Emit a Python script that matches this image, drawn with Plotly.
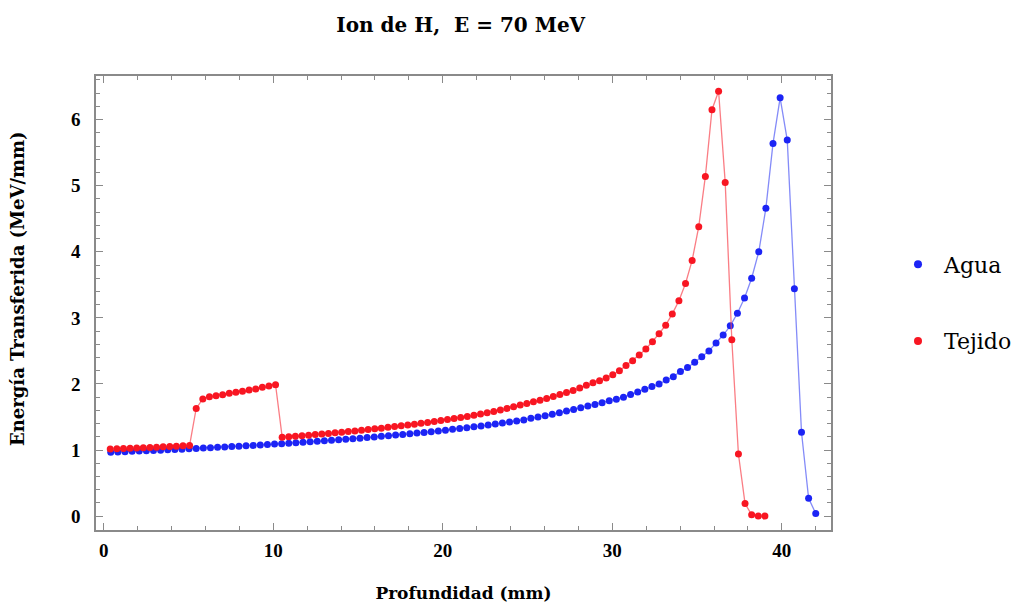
import plotly.graph_objects as go

# Depth grids (mm)
depth_agua = [0.42, 0.84, 1.26, 1.68, 2.1, 2.52, 2.94, 3.36, 3.78, 4.2, 4.62, 5.04, 5.46, 5.88, 6.3, 6.72, 7.14, 7.56, 7.98, 8.4,
              8.82, 9.24, 9.66, 10.08, 10.5, 10.92, 11.34, 11.76, 12.18, 12.6, 13.02, 13.44, 13.86, 14.28, 14.7, 15.12, 15.54, 15.96, 16.38, 16.8,
              17.22, 17.64, 18.06, 18.48, 18.9, 19.32, 19.74, 20.16, 20.58, 21.0, 21.42, 21.84, 22.26, 22.68, 23.1, 23.52, 23.94, 24.36, 24.78, 25.2,
              25.62, 26.04, 26.46, 26.88, 27.3, 27.72, 28.14, 28.56, 28.98, 29.4, 29.82, 30.24, 30.66, 31.08, 31.5, 31.92, 32.34, 32.76, 33.18, 33.6,
              34.02, 34.44, 34.86, 35.28, 35.7, 36.12, 36.54, 36.96, 37.38, 37.8, 38.22, 38.64, 39.06, 39.48, 39.9, 40.32, 40.74, 41.16, 41.58, 42.0]

energia_agua = [0.965, 0.970, 0.975, 0.980, 0.984, 0.989, 0.994, 0.998, 1.003, 1.008,
                1.013, 1.018, 1.024, 1.029, 1.035, 1.041, 1.046, 1.052, 1.058, 1.064,
                1.070, 1.077, 1.083, 1.090, 1.096, 1.103, 1.110, 1.117, 1.125, 1.132,
                1.140, 1.148, 1.156, 1.164, 1.172, 1.180, 1.189, 1.198, 1.207, 1.216,
                1.226, 1.236, 1.246, 1.256, 1.267, 1.278, 1.289, 1.301, 1.313, 1.325,
                1.338, 1.351, 1.364, 1.378, 1.393, 1.408, 1.423, 1.439, 1.456, 1.480,
                1.500, 1.520, 1.540, 1.565, 1.590, 1.615, 1.640, 1.665, 1.690, 1.715,
                1.745, 1.770, 1.800, 1.840, 1.880, 1.920, 1.960, 2.000, 2.060, 2.110,
                2.190, 2.250, 2.330, 2.410, 2.500, 2.620, 2.740, 2.880, 3.070, 3.300,
                3.600, 4.000, 4.660, 5.640, 6.330, 5.690, 3.440, 1.270, 0.270, 0.040]

depth_tejido = [0.39, 0.78, 1.17, 1.56, 1.95, 2.34, 2.73, 3.12, 3.51, 3.9, 4.29, 4.68, 5.07, 5.46, 5.85, 6.24, 6.63, 7.02, 7.41, 7.8,
                8.19, 8.58, 8.97, 9.36, 9.75, 10.14, 10.53, 10.92, 11.31, 11.7, 12.09, 12.48, 12.87, 13.26, 13.65, 14.04, 14.43, 14.82, 15.21, 15.6,
                15.99, 16.38, 16.77, 17.16, 17.55, 17.94, 18.33, 18.72, 19.11, 19.5, 19.89, 20.28, 20.67, 21.06, 21.45, 21.84, 22.23, 22.62, 23.01, 23.4,
                23.79, 24.18, 24.57, 24.96, 25.35, 25.74, 26.13, 26.52, 26.91, 27.3, 27.69, 28.08, 28.47, 28.86, 29.25, 29.64, 30.03, 30.42, 30.81, 31.2,
                31.59, 31.98, 32.37, 32.76, 33.15, 33.54, 33.93, 34.32, 34.71, 35.1, 35.49, 35.88, 36.27, 36.66, 37.05, 37.44, 37.83, 38.22, 38.61, 39.0]

energia_tejido = [1.015, 1.020, 1.024, 1.028, 1.032, 1.036, 1.040, 1.044, 1.049, 1.054,
                  1.059, 1.064, 1.070, 1.630, 1.773, 1.808, 1.823, 1.838, 1.858, 1.873,
                  1.888, 1.909, 1.924, 1.949, 1.970, 1.989, 1.195, 1.200, 1.208, 1.217,
                  1.225, 1.234, 1.242, 1.251, 1.260, 1.270, 1.279, 1.289, 1.300, 1.310,
                  1.321, 1.331, 1.343, 1.355, 1.366, 1.379, 1.392, 1.405, 1.418, 1.432,
                  1.446, 1.461, 1.477, 1.492, 1.508, 1.525, 1.545, 1.565, 1.585, 1.605,
                  1.630, 1.655, 1.680, 1.705, 1.730, 1.755, 1.780, 1.810, 1.840, 1.870,
                  1.900, 1.940, 1.980, 2.020, 2.050, 2.090, 2.140, 2.200, 2.280, 2.350,
                  2.440, 2.530, 2.640, 2.760, 2.890, 3.060, 3.260, 3.520, 3.870, 4.380,
                  5.140, 6.150, 6.430, 5.050, 2.670, 0.940, 0.190, 0.020, 0.000, 0.000]

series_names = ["Agua", "Tejido"]
marker_colors = ["rgb(28,36,245)", "rgb(248,22,34)"]
line_colors = ["rgba(80,90,245,0.7)", "rgba(248,70,80,0.7)"]

title_text = "Ion de H,  E = 70 MeV"
x_title = "Profundidad (mm)"
y_title = "Energía Transferida (MeV/mm)"

SERIF = "Liberation Serif, Times New Roman, serif"
SLAB = "DejaVu Serif, serif"

fig = go.Figure()
for name, xs, ys, mc, lc in [(series_names[0], depth_agua, energia_agua, marker_colors[0], line_colors[0]),
                             (series_names[1], depth_tejido, energia_tejido, marker_colors[1], line_colors[1])]:
    fig.add_trace(go.Scatter(x=xs, y=ys, mode="lines+markers", name=name, showlegend=False,
                             line=dict(color=lc, width=1.3),
                             marker=dict(color=mc, size=7, line=dict(width=0))))
# legend entries (dot only)
for i, (name, mc) in enumerate(zip(series_names, marker_colors)):
    fig.add_trace(go.Scatter(x=[None], y=[None], mode="markers", name=name, legendgroup=name,
                             marker=dict(color=mc, size=8)))

axis_common = dict(showline=True, linecolor="#8a8a8a", linewidth=1.5, mirror="allticks",
                   ticks="inside", tickcolor="#8a8a8a", tickwidth=1.2, ticklen=7,
                   showgrid=False, zeroline=False, automargin=False,
                   tickfont=dict(family=SERIF, size=19, color="black", weight="bold"))

fig.update_xaxes(range=[-0.45, 42.9], dtick=10, tick0=0, ticklabelstandoff=2,
                 minor=dict(dtick=2, ticks="inside", ticklen=4, tickcolor="#8a8a8a", tickwidth=1),
                 title=dict(text=x_title, font=dict(family=SLAB, size=17, color="black", weight="bold"), standoff=28),
                 **axis_common)
fig.update_yaxes(range=[-0.21, 6.66], dtick=1, tick0=0, ticklabelstandoff=10,
                 minor=dict(dtick=0.2, ticks="inside", ticklen=4, tickcolor="#8a8a8a", tickwidth=1),
                 **axis_common)

fig.add_annotation(text=y_title, textangle=-90, xref="paper", yref="paper",
                   x=-0.106, y=0.531, xanchor="center", yanchor="middle", showarrow=False,
                   font=dict(family=SLAB, size=18, color="black", weight="bold"))

fig.update_layout(
    width=1022, height=604,
    margin=dict(l=88, r=199, t=68, b=82, autoexpand=False),
    plot_bgcolor="white", paper_bgcolor="white",
    title=dict(text=title_text, x=0.443, xanchor="center", y=0.972, yanchor="middle",
               font=dict(family=SLAB, size=20, color="black", weight="bold")),
    legend=dict(x=1.083, y=0.5, xanchor="left", yanchor="middle", tracegroupgap=45,
                font=dict(family=SLAB, size=22, color="black"), itemwidth=42,
                bgcolor="rgba(0,0,0,0)"),
)

fig.write_html("out.html")
